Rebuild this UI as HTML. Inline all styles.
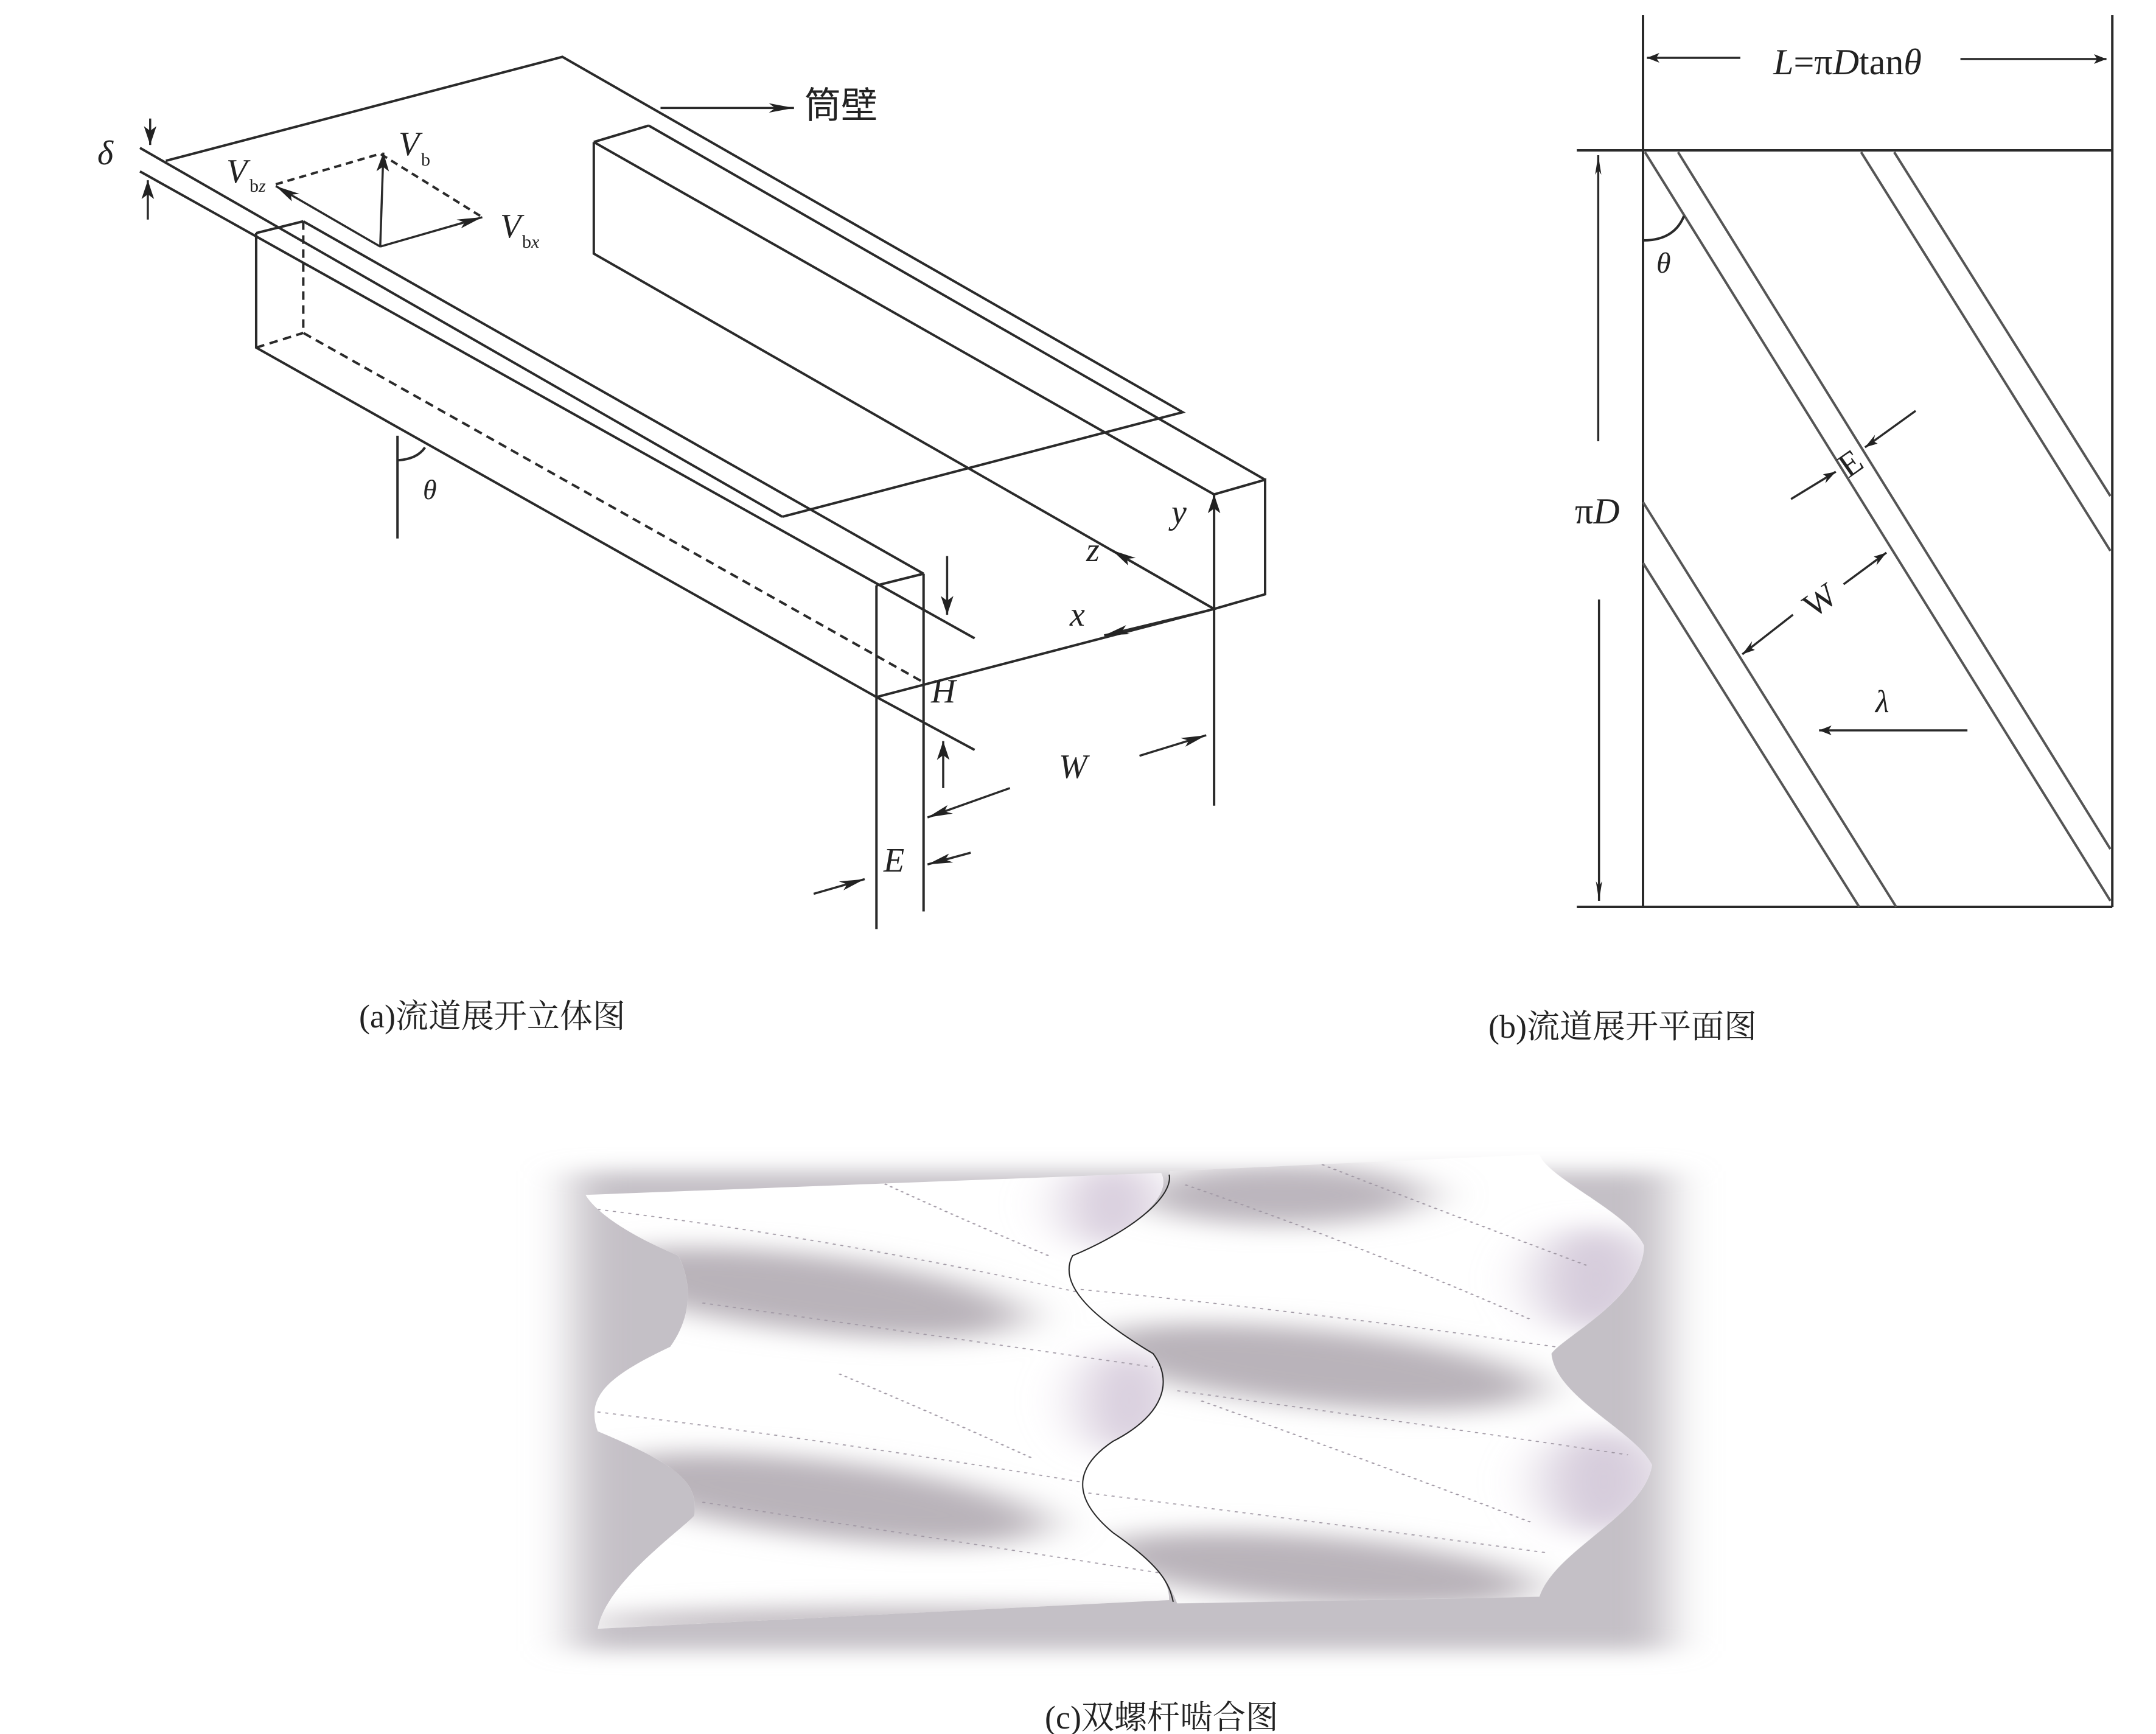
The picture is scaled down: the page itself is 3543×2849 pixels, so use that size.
<!DOCTYPE html>
<html><head><meta charset="utf-8"><style>
html,body{margin:0;padding:0;background:#fff;}
svg{display:block;}
text{font-family:"Liberation Serif","Noto Serif CJK SC",serif;fill:#222;}
</style></head><body>
<svg width="3543" height="2849" viewBox="0 0 3543 2849" xmlns="http://www.w3.org/2000/svg">
<defs>
<marker id="ah" markerUnits="userSpaceOnUse" markerWidth="34" markerHeight="20" refX="32" refY="10" orient="auto">
<path d="M0,2 L32,10 L0,18 L8,10Z" fill="#222"/>
</marker>
<filter id="blur" x="-30%" y="-30%" width="160%" height="160%"><feGaussianBlur stdDeviation="35"/></filter>
<filter id="sb" x="-50%" y="-50%" width="200%" height="200%"><feGaussianBlur stdDeviation="30"/></filter>
<clipPath id="cl"><path d="M85,150 L800,85 C815,150 770,250 690,330 C670,420 720,520 790,620 C815,700 805,800 740,880 C690,960 690,1050 740,1150 C800,1250 810,1300 810,1350 L100,1435 C110,1300 200,1150 220,1100 C225,1000 200,950 100,850 C85,750 110,690 190,600 C220,500 215,400 200,330 C100,230 85,150 85,150Z"/></clipPath>
<clipPath id="cr"><path d="M810,80 L1270,30 C1280,100 1380,200 1400,300 C1400,450 1300,570 1285,620 C1290,750 1390,850 1410,950 C1400,1100 1290,1200 1270,1340 L820,1360 C810,1300 800,1250 740,1150 C690,1050 690,960 740,880 C805,800 815,700 790,620 C720,520 670,420 690,330 C770,250 815,150 810,80Z"/></clipPath>
</defs>

<!-- Panel (a) -->
<g transform="translate(150,50) scale(1.2903,0.965)" fill="none" stroke="#2a2a2a">
<g stroke-width="4">
<path vector-effect="non-scaling-stroke" d="M95,222 L600,45 L1390,650 L880,828"/>
<path vector-effect="non-scaling-stroke" d="M62,200 L880,828"/>
<path vector-effect="non-scaling-stroke" d="M62,240 L1125,1035"/>
<path vector-effect="non-scaling-stroke" d="M270,325 L1060,925"/>
<path vector-effect="non-scaling-stroke" d="M210,345 L270,325 M210,345 L210,540 L1000,1135 L1125,1225"/>
<path vector-effect="non-scaling-stroke" d="M1000,945 L1060,925 M1000,945 L1000,1530 M1060,925 L1060,1500"/>
<path vector-effect="non-scaling-stroke" stroke-dasharray="14,9" d="M270,325 L270,515 L1060,1110 M210,540 L270,515"/>
<path vector-effect="non-scaling-stroke" d="M1000,1135 L1430,985 L1495,960 L1495,765 L1430,790 M710,162 L1495,765 M640,190 L710,162 M640,190 L640,380 L1430,985 M640,190 L1430,790 M1430,790 L1430,1320"/>
<path vector-effect="non-scaling-stroke" d="M390,690 L390,865 M390,732 Q415,730 425,710"/>
<path vector-effect="non-scaling-stroke" stroke-dasharray="12,8" d="M235,262 L368,210 L498,318"/>
</g>
<g stroke-width="3.5">
<path vector-effect="non-scaling-stroke" marker-end="url(#ah)" d="M725,132 L895,132"/>
<path vector-effect="non-scaling-stroke" marker-end="url(#ah)" d="M368,368 L372,208"/>
<path vector-effect="non-scaling-stroke" marker-end="url(#ah)" d="M368,368 L498,318"/>
<path vector-effect="non-scaling-stroke" marker-end="url(#ah)" d="M368,368 L235,265"/>
<path vector-effect="non-scaling-stroke" marker-end="url(#ah)" d="M1430,985 L1300,885"/>
<path vector-effect="non-scaling-stroke" marker-end="url(#ah)" d="M1430,985 L1290,1030"/>
<path vector-effect="non-scaling-stroke" marker-end="url(#ah)" d="M1430,985 L1430,790"/>
<path vector-effect="non-scaling-stroke" marker-end="url(#ah)" d="M1335,1235 L1420,1200"/>
<path vector-effect="non-scaling-stroke" marker-end="url(#ah)" d="M1170,1290 L1065,1340"/>
<path vector-effect="non-scaling-stroke" marker-end="url(#ah)" d="M920,1470 L985,1445"/>
<path vector-effect="non-scaling-stroke" marker-end="url(#ah)" d="M1120,1400 L1065,1420"/>
<path vector-effect="non-scaling-stroke" marker-end="url(#ah)" d="M1090,895 L1090,995"/>
<path vector-effect="non-scaling-stroke" marker-end="url(#ah)" d="M1085,1290 L1085,1210"/>
<path vector-effect="non-scaling-stroke" marker-end="url(#ah)" d="M75,150 L75,195"/>
<path vector-effect="non-scaling-stroke" marker-end="url(#ah)" d="M72,322 L72,255"/>
</g>
</g>
<g font-style="italic" font-size="56">
<text x="160" y="270">δ</text>
<text x="655" y="255">V</text><text x="692" y="272" font-style="normal" font-size="30">b</text>
<text x="372" y="300">V</text><text x="410" y="315" font-style="normal" font-size="30">b<tspan font-style="italic">z</tspan></text>
<text x="822" y="390">V</text><text x="858" y="407" font-style="normal" font-size="30">b<tspan font-style="italic">x</tspan></text>
<text x="695" y="820" font-size="46">θ</text>
<text x="1925" y="860">y</text>
<text x="1785" y="922">z</text>
<text x="1758" y="1028">x</text>
<text x="1530" y="1154">H</text>
<text x="1740" y="1278">W</text>
<text x="1452" y="1432">E</text>
</g>
<text x="1322" y="194" font-size="60" style="font-family:'Noto Sans CJK SC',sans-serif">筒壁</text>

<!-- Panel (b) -->
<g transform="translate(2572,0) scale(0.64,1)" fill="none" stroke="#2a2a2a">
<g stroke-width="4">
<path vector-effect="non-scaling-stroke" d="M200,25 L200,1490 M1405,25 L1405,1490 M30,247 L1405,247 M30,1490 L1405,1490"/>
<path vector-effect="non-scaling-stroke" stroke="#555" d="M205,250 L1400,1480 M290,250 L1400,1395 M760,250 L1400,905 M845,250 L1400,815 M200,825 L850,1490 M200,925 L755,1490"/>
<path vector-effect="non-scaling-stroke" d="M200,395 Q280,395 305,355"/>
</g>
<g stroke-width="3.5">
<path vector-effect="non-scaling-stroke" marker-end="url(#ah)" d="M450,95 L210,95"/>
<path vector-effect="non-scaling-stroke" marker-end="url(#ah)" d="M1015,97 L1390,97"/>
<path vector-effect="non-scaling-stroke" marker-end="url(#ah)" d="M85,725 L85,255"/>
<path vector-effect="non-scaling-stroke" marker-end="url(#ah)" d="M87,985 L87,1480"/>
<path vector-effect="non-scaling-stroke" marker-end="url(#ah)" d="M580,820 L695,775"/>
<path vector-effect="non-scaling-stroke" marker-end="url(#ah)" d="M900,675 L770,735"/>
<path vector-effect="non-scaling-stroke" marker-end="url(#ah)" d="M585,1010 L455,1075"/>
<path vector-effect="non-scaling-stroke" marker-end="url(#ah)" d="M715,960 L825,908"/>
<path vector-effect="non-scaling-stroke" marker-end="url(#ah)" d="M1033,1200 L652,1200"/>
</g>
</g>
<text x="3036" y="122" font-size="60" text-anchor="middle"><tspan font-style="italic">L</tspan>=π<tspan font-style="italic">D</tspan>tan<tspan font-style="italic">θ</tspan></text>
<text x="2588" y="860" font-size="60">π<tspan font-style="italic">D</tspan></text>
<text x="2722" y="448" font-size="48" font-style="italic">θ</text>
<text x="3040" y="780" font-size="56" text-anchor="middle" transform="rotate(-35 3040 760)">E</text>
<text x="2990" y="1005" font-size="56" text-anchor="middle" transform="rotate(-35 2990 985)">W</text>
<text x="3082" y="1170" font-size="52" font-style="italic">λ</text>

<!-- captions -->
<text x="590" y="1688" font-size="54">(a)流道展开立体图</text>
<text x="2446" y="1705" font-size="54">(b)流道展开平面图</text>
<text x="1717" y="2840" font-size="54">(c)双螺杆啮合图</text>

<!-- Panel (c) -->
<g transform="translate(850,1880) scale(1.3226,0.5548)">
<rect x="70" y="80" width="1360" height="1420" fill="#c4c0c6" filter="url(#sb)"/>
<g clip-path="url(#cl)">
<rect x="0" y="0" width="1500" height="1500" fill="#fff"/>
<g filter="url(#blur)">
<ellipse cx="360" cy="440" rx="280" ry="110" transform="rotate(18 360 440)" fill="#b9b3ba"/>
<ellipse cx="380" cy="1050" rx="290" ry="110" transform="rotate(18 380 1050)" fill="#b9b3ba"/>
<ellipse cx="740" cy="180" rx="60" ry="130" fill="#d8cedd"/>
<ellipse cx="760" cy="760" rx="60" ry="160" fill="#d8cedd"/>
<ellipse cx="500" cy="1420" rx="420" ry="50" fill="#c0bac0"/>
</g>
<g fill="none" stroke="#a098a4" stroke-width="3" stroke-dasharray="4,6" vector-effect="non-scaling-stroke">
<path d="M90,190 Q400,280 700,440"/><path d="M230,470 Q500,560 790,660"/>
<path d="M90,790 Q400,880 700,1000"/><path d="M230,1060 Q500,1160 800,1270"/>
<path d="M450,110 Q550,220 660,330"/><path d="M400,680 Q520,800 640,930"/>
</g>
</g>
<g clip-path="url(#cr)">
<rect x="0" y="0" width="1500" height="1500" fill="#fff"/>
<g filter="url(#blur)">
<ellipse cx="950" cy="150" rx="180" ry="90" fill="#bcb6bd"/>
<ellipse cx="990" cy="660" rx="290" ry="110" transform="rotate(15 990 660)" fill="#b9b3ba"/>
<ellipse cx="990" cy="1260" rx="280" ry="100" transform="rotate(12 990 1260)" fill="#b9b3ba"/>
<ellipse cx="1340" cy="400" rx="75" ry="160" fill="#d6ccdb"/>
<ellipse cx="1350" cy="1000" rx="75" ry="160" fill="#d6ccdb"/>
</g>
<g fill="none" stroke="#a098a4" stroke-width="3" stroke-dasharray="4,6" vector-effect="non-scaling-stroke">
<path d="M700,430 Q1000,500 1290,600"/><path d="M820,730 Q1100,820 1380,920"/>
<path d="M700,1030 Q1000,1120 1280,1210"/><path d="M830,120 Q1050,300 1260,520"/>
<path d="M850,760 Q1050,930 1260,1120"/><path d="M1000,60 Q1150,200 1330,360"/>
</g>
</g>
<path d="M810,90 C815,150 770,250 690,330 C670,420 720,520 790,620 C815,700 805,800 740,880 C690,960 690,1050 740,1150 C800,1250 810,1300 815,1355" fill="none" stroke="#222" stroke-width="2" vector-effect="non-scaling-stroke"/>
</g>
</svg>
</body></html>
